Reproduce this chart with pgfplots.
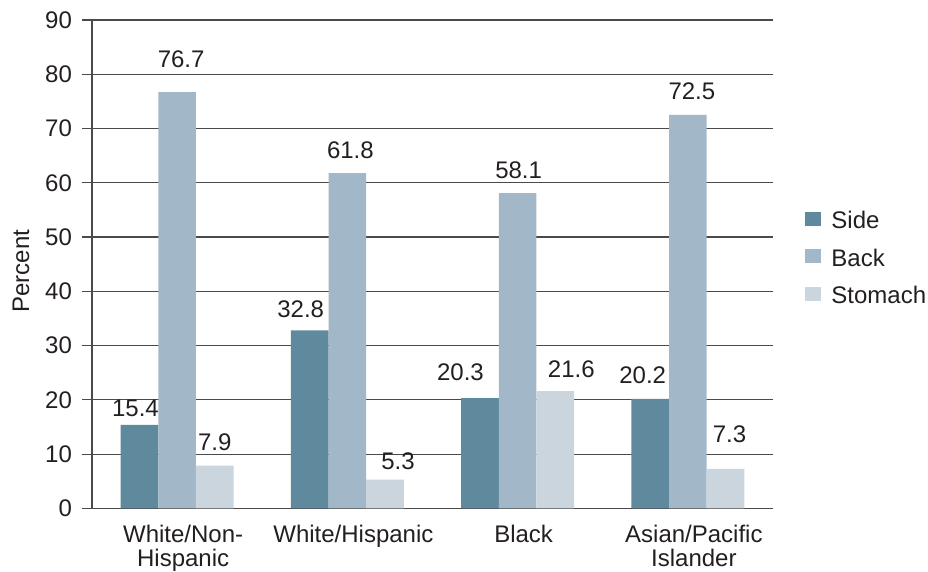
\documentclass[border=0pt]{standalone}
\usepackage{pgfplots}
\pgfplotsset{compat=1.18}
\usepackage{pgfplotstable}
\usepackage{fontspec}
\setmainfont{Liberation Sans}
\usetikzlibrary{calc}

\definecolor{sidec}{HTML}{5F899D}
\definecolor{backc}{HTML}{A2B8C8}
\definecolor{stomc}{HTML}{CAD5DE}
\definecolor{textc}{HTML}{231F20}
\definecolor{gridc}{HTML}{4A4A4A}

% x: group, y: percent, dx/dy: label offset (pt) from bar top
\pgfplotstableread{
x y dx dy
0 15.4 -2.0 4.2
1 32.8 -4.5 6.3
2 20.3 -9.75 8.8
3 20.2 -3.75 7.5
}\sidedata
\pgfplotstableread{
x y dx dy
0 76.7 2.0 12.5
1 61.8 1.5 7.5
2 58.1 0.5 7.5
3 72.5 2.0 7.5
}\backdata
\pgfplotstableread{
x y dx dy
0 7.9 0.0 7.7
1 5.3 6.5 5.3
2 21.6 8.0 6.8
3 7.3 2.0 13.0
}\stomdata

\begin{document}
\begin{tikzpicture}[font=\fontsize{12}{11.7}\selectfont, text=textc]
\begin{axis}[
  name=main,
  scale only axis,
  width=340.5pt, height=244.2pt,
  ybar=0pt, bar width=18.85pt,
  xmin=-0.5, xmax=3.5, ymin=0, ymax=90,
  axis lines=left,
  axis line style={-, draw=gridc, line width=0.6pt},
  ymajorgrids, grid style={draw=gridc, line width=0.6pt},
  ytick={0,10,...,90},
  tick align=outside,
  ytick style={draw=gridc, line width=0.6pt},
  major tick length=5pt,
  yticklabel style={xshift=-1.5pt},
  xtick={0,1,2,3},
  xticklabels={{White/Non-\\Hispanic}, {White/Hispanic}, {Black}, {Asian/Pacific\\Islander}},
  xticklabel style={align=center, xshift=3pt},
  x tick style={draw=none},
  extra x ticks={-0.5,0.5,1.5,2.5,3.5},
  extra x tick labels={},
  extra x tick style={major tick length=3.5pt, tick style={draw=gridc, line width=0.6pt}},
  /pgf/number format/assume math mode=true,
  ylabel={Percent},
  ylabel style={at={(axis description cs:0,0.486)}, anchor=center, yshift=35.5pt},
  nodes near coords={\pgfmathprintnumber[fixed,fixed zerofill,precision=1,assume math mode=true]{\pgfplotspointmeta}},
  visualization depends on={\thisrow{dx} \as \dx},
  visualization depends on={\thisrow{dy} \as \dy},
  every node near coord/.append style={anchor=base, xshift=\dx pt, yshift=\dy pt, inner sep=0pt, text=textc},
  legend style={at={(axis description cs:1,0.5136)}, anchor=west, xshift=16pt,
    draw=none, fill=none, inner sep=0pt, row sep=10.25pt, column sep=5pt,
    nodes={inner sep=0pt, text height=8pt, text depth=0pt, text=textc}},
  legend cell align=left,
  legend image code/.code={\fill[#1] (0pt,-2.5pt) rectangle (8pt,4.5pt);},
]
\addplot[fill=sidec, draw=none] table[x=x, y=y] {\sidedata};
\addplot[fill=backc, draw=none] table[x=x, y=y] {\backdata};
\addplot[fill=stomc, draw=none] table[x=x, y=y] {\stomdata};
\legend{Side, Back, Stomach}
\end{axis}
\pgfresetboundingbox
\path[use as bounding box] ($(main.south west)+(-46pt,-31.65pt)$) rectangle ($(main.north east)+(77.5pt,10pt)$);
\end{tikzpicture}
\end{document}
